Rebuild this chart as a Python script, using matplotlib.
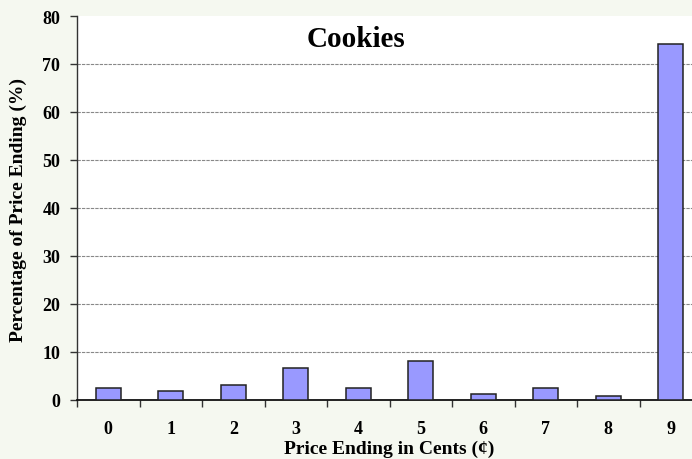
import numpy as np
import matplotlib
matplotlib.use('Agg')
import matplotlib.pyplot as plt

# share of prices ending in each cent digit, cookies
endings = ['0', '1', '2', '3', '4', '5', '6', '7', '8', '9']
percent = [2.3, 1.7, 3.0, 6.5, 2.3, 8.0, 1.2, 2.3, 0.7, 74.1]

plt.rcParams['font.family'] = ['Liberation Serif', 'DejaVu Serif']
plt.rcParams['font.weight'] = 'bold'

bg = '#f5f8f0'
fig = plt.figure(figsize=(6.92, 4.60), dpi=100, facecolor=bg)
# plot area runs slightly past the right edge of the figure
ax = fig.add_axes([77/692, (460-400.5)/460, 625/692, 383.5/460])
ax.set_facecolor('white')

x = np.arange(len(endings))
ax.bar(x, percent, width=0.4, color='#9999ff', edgecolor='#222222', linewidth=1.1, zorder=3)

ax.set_xlim(-0.5, 9.5)
ax.set_ylim(0, 80)
ax.set_yticks(range(0, 81, 10))
ax.set_yticklabels([str(v) for v in range(0, 81, 10)], fontsize=13, fontweight='bold')

# boundary ticks between categories, labels centred under bars
ax.set_xticks(np.arange(-0.5, 10, 1.0))
ax.set_xticklabels([])
ax.set_xticks(x, minor=True)
ax.set_xticklabels(endings, minor=True, fontsize=13, fontweight='bold')
ax.tick_params(axis='x', which='major', length=5, width=1, color='#333333', direction='out')
ax.tick_params(axis='x', which='minor', length=0, pad=14.5)
ax.tick_params(axis='y', length=5, width=1, color='#333333', direction='out', pad=7)

ax.grid(axis='y', linestyle=(0, (3, 1)), color='#888888', linewidth=0.8, zorder=0)
ax.get_ygridlines()[-1].set_visible(False)

for side in ['top', 'right']:
    ax.spines[side].set_visible(False)
ax.spines['left'].set_color('#333333')
ax.spines['bottom'].set_color('#111111')
ax.spines['left'].set_linewidth(1.0)
ax.spines['bottom'].set_linewidth(1.3)

fig.text(389/692, 1 - 449/460, 'Price Ending in Cents (\u00a2)', fontsize=14,
         fontweight='bold', ha='center', va='center')
fig.text(18/692, 1 - 210/460, 'Percentage of Price Ending (%)', fontsize=14,
         fontweight='bold', ha='center', va='center', rotation=90)
fig.text(356/692, 1 - 40/460, 'Cookies', fontsize=21, fontweight='bold', ha='center', va='center')

fig.savefig('out.png', dpi=100, facecolor=bg)
